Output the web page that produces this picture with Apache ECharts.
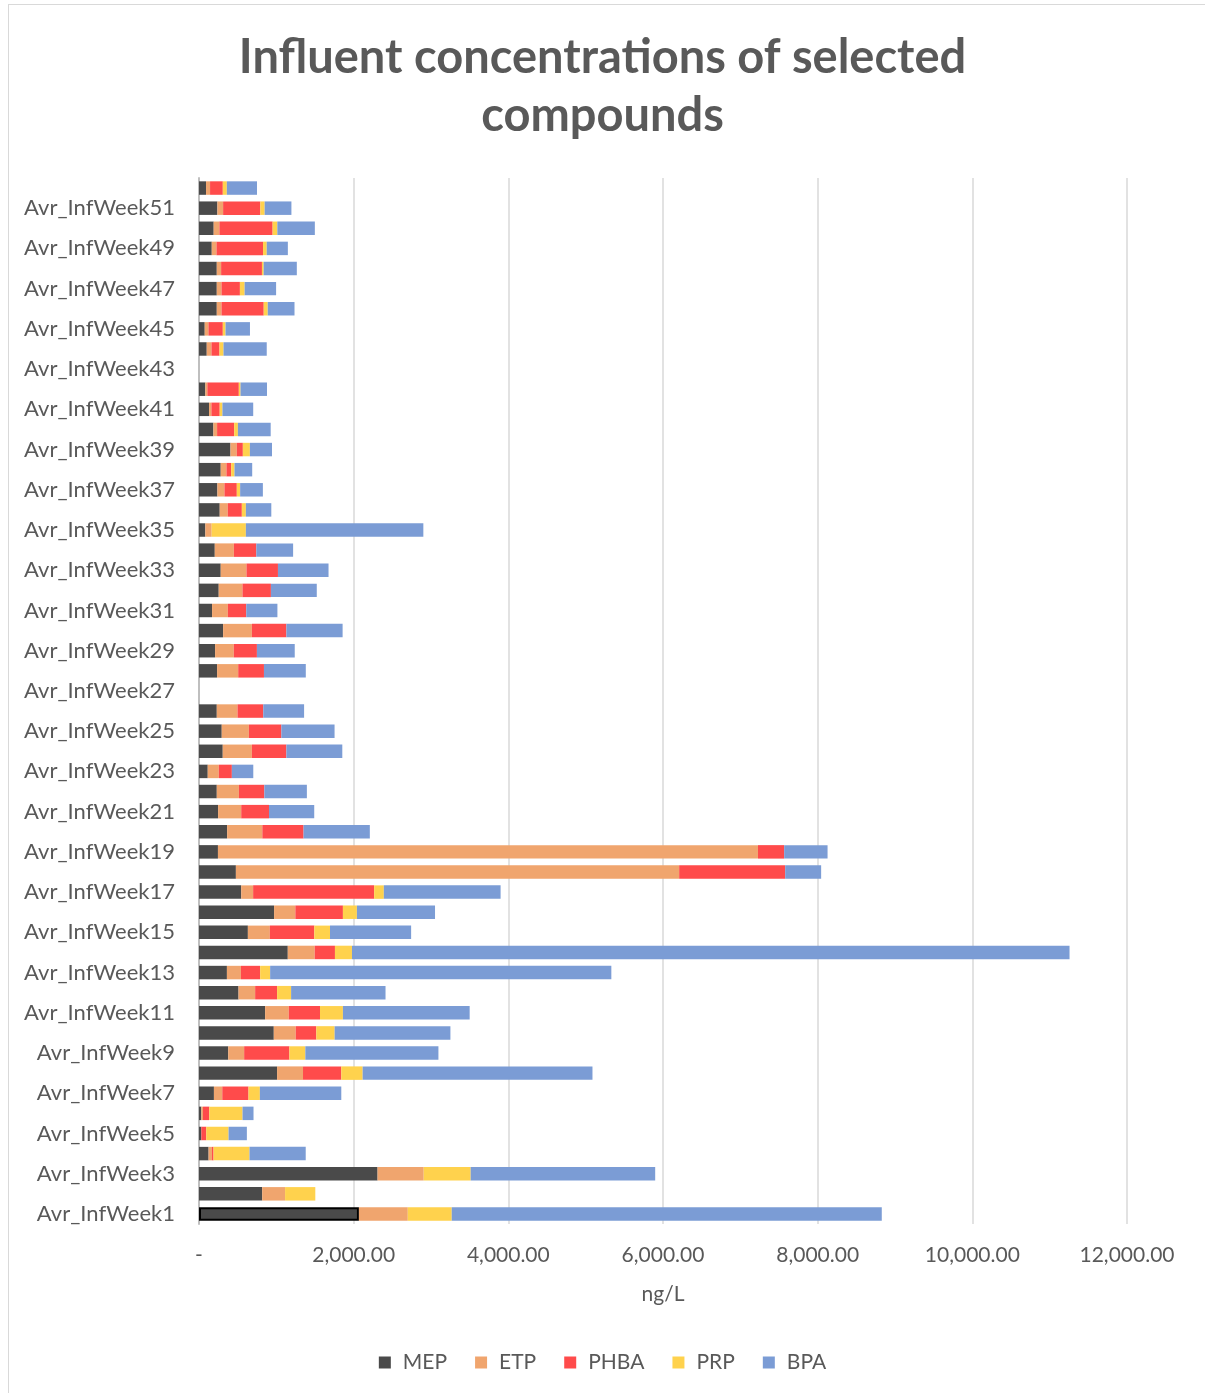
<!DOCTYPE html>
<html>
<head>
<meta charset="utf-8">
<title>Influent concentrations of selected compounds</title>
<script src="https://cdn.jsdelivr.net/npm/echarts@6/dist/echarts.min.js"></script>
<style>
  body { margin: 0; background: #fff; }
  #frame {
    position: absolute; left: 8px; top: 4px;
    width: 1210px; height: 1400px;
    border: 1px solid #D9D9D9;
  }
  #chart { position: absolute; left: 0; top: 0; width: 1205px; height: 1393px; }
</style>
</head>
<body>
<div id="frame"></div>
<div id="chart"></div>
<script>
// weeks 1..52 (bottom to top)
const weeks = []
for (let i = 1; i <= 52; i++) weeks.push('Avr_InfWeek' + i)

const mep = [2068, 817, 2309, 124, 30, 30, 193, 1010, 378, 967, 855, 511, 361, 1148, 632, 971, 546, 477, 245, 364,
  247, 230, 113, 307, 294, 230, null, 234, 208, 312, 169, 255, 281, 204, 82, 268, 238, 281, 407, 186,
  130, 82, null, 100, 74, 230, 230, 230, 165, 190, 238, 91]
const etp = [632, 296, 597, 44, 0, 22, 108, 335, 206, 284, 306, 215, 181, 348, 284, 275, 154, 5732, 6983, 455,
  299, 286, 143, 377, 351, 268, null, 273, 242, 372, 204, 307, 333, 247, 82, 104, 91, 74, 82, 48,
  30, 26, null, 61, 48, 61, 61, 56, 61, 74, 74, 52]
const phba = [0, 0, 0, 20, 64, 81, 339, 495, 585, 266, 404, 284, 249, 262, 575, 615, 1565, 1371, 339, 533,
  359, 329, 169, 446, 420, 333, null, 333, 299, 446, 238, 368, 407, 290, 0, 182, 160, 61, 78, 221,
  108, 407, null, 104, 186, 546, 238, 528, 602, 688, 481, 165]
const prp = [568, 391, 607, 465, 288, 430, 147, 276, 206, 237, 296, 181, 129, 220, 203, 181, 125, 0, 0, 0,
  0, 0, 0, 0, 0, 0, null, 0, 0, 0, 0, 0, 0, 0, 442, 52, 43, 43, 91, 48,
  35, 22, null, 52, 35, 52, 61, 22, 48, 61, 56, 52]
const bpa = [5561, 0, 2386, 727, 237, 142, 1053, 2972, 1721, 1497, 1639, 1221, 4412, 9279, 1049, 1010, 1510, 465, 561, 857,
  585, 550, 277, 723, 688, 528, null, 541, 489, 727, 403, 593, 654, 476, 2295, 329, 294, 229, 286, 424,
  398, 342, null, 559, 316, 346, 407, 429, 273, 485, 346, 390]

const names = ['MEP', 'ETP', 'PHBA', 'PRP', 'BPA']
const colors = ['#4A4A4A', '#F0A56E', '#FF4B4B', '#FFD24D', '#7B9CD5']
const xTicks = { min: 0, max: 12000, step: 2000 }

const fontFam = 'Lato, "Open Sans", sans-serif'
const fmt = new Intl.NumberFormat('en-US', { minimumFractionDigits: 2, maximumFractionDigits: 2 })

const chart = echarts.init(document.getElementById('chart'))

// week 1 MEP is outlined in the original
const mepData = mep.map((v, i) => i === 0
  ? { value: v, itemStyle: { borderColor: '#000', borderWidth: 2 } }
  : v)

const seriesData = [mepData, etp, phba, prp, bpa]

chart.setOption({
  textStyle: { fontFamily: fontFam },
  title: {
    text: 'Influent concentrations of selected\ncompounds',
    left: 'center',
    top: 24,
    textStyle: {
      fontFamily: fontFam,
      fontSize: 47,
      fontWeight: 'bold',
      color: '#595959',
      lineHeight: 58
    }
  },
  legend: {
    data: names,
    bottom: 15,
    left: 'center',
    itemWidth: 12,
    itemHeight: 12,
    itemGap: 28,
    icon: 'rect',
    textStyle: { fontSize: 21, color: '#595959', fontFamily: fontFam, padding: [0, 0, 0, 7] }
  },
  grid: { left: 199, right: 78, top: 178, bottom: 169 },
  xAxis: {
    type: 'value',
    min: xTicks.min,
    max: xTicks.max,
    interval: xTicks.step,
    name: 'ng/L',
    nameLocation: 'middle',
    nameGap: 60,
    nameTextStyle: { fontSize: 21, color: '#595959' },
    axisLine: { show: false },
    axisTick: { show: false },
    splitLine: { lineStyle: { color: '#D9D9D9', width: 1.5 } },
    axisLabel: {
      fontSize: 21,
      color: '#595959',
      margin: 21,
      formatter: v => v === 0 ? '-' : fmt.format(v)
    }
  },
  yAxis: {
    type: 'category',
    data: weeks,
    axisTick: { show: false },
    axisLine: { lineStyle: { color: '#BFBFBF', width: 2 } },
    axisLabel: {
      interval: 1,
      fontSize: 22,
      color: '#595959',
      margin: 24
    }
  },
  series: names.map((n, i) => ({
    name: n,
    type: 'bar',
    stack: 'total',
    barCategoryGap: '33%',
    itemStyle: { color: colors[i] },
    emphasis: { disabled: true },
    data: seriesData[i]
  }))
})
</script>
</body>
</html>
